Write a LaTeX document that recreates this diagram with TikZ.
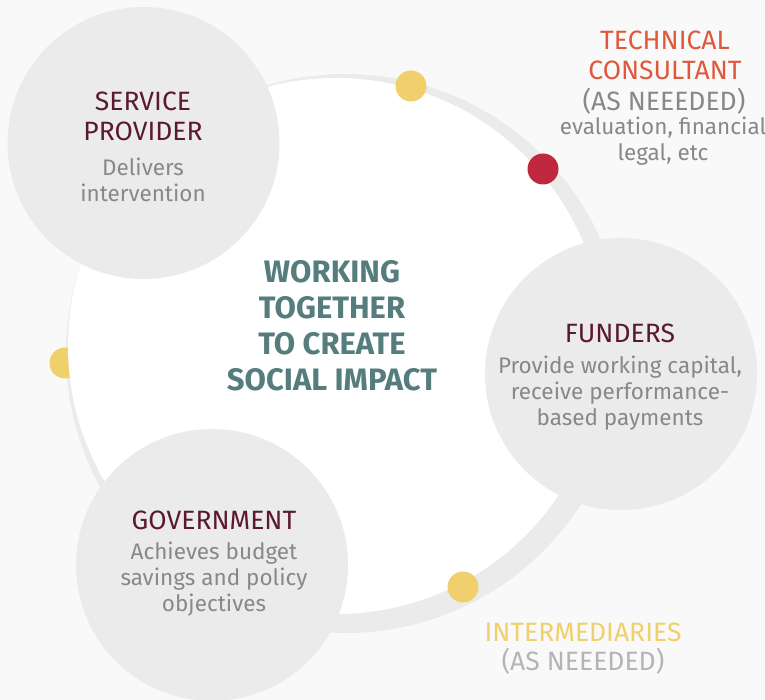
\documentclass[tikz,border=0pt]{standalone}
\usepackage{fontspec}
\setmainfont{Fira Sans}
\usetikzlibrary{positioning}

\definecolor{pagebg}{HTML}{F9F9F9}
\definecolor{ringgray}{HTML}{EBEBEB}
\definecolor{sunyellow}{HTML}{F0D06C}
\definecolor{dotred}{HTML}{C0283F}
\definecolor{headmaroon}{HTML}{5A1A2C}
\definecolor{bodygray}{HTML}{888888}
\definecolor{palegray}{HTML}{B4B4B4}
\definecolor{slateteal}{HTML}{557D7E}
\definecolor{consultred}{HTML}{E0583C}

\tikzset{
  actor/.style={circle, fill=ringgray, minimum size=272pt, inner sep=0pt},
  spot/.style={circle, minimum size=31pt, inner sep=0pt},
  head/.style={align=center, text=headmaroon, font=\fontsize{26.5}{30}\selectfont},
  body/.style={align=center, text=bodygray, font=\fontsize{22.5}{26}\selectfont}
}

\begin{document}
\begin{tikzpicture}[x=1pt, y=-1pt]
%Page and its margins
\fill[pagebg] (0,0) rectangle (765,700);
\useasboundingbox (0,0) rectangle (765,700);

%The big ring, a grey disc with a white disc a bit up and left of it
\node[circle, fill=ringgray, minimum size=559pt, inner sep=0pt] (ring) at (345.5,353.5) {};
\node[spot, fill=sunyellow] (dotleft) at (65,363) {};
\node[circle, fill=white, minimum size=536pt, inner sep=0pt] (hub) at (336,346) {};
\node[spot, fill=sunyellow] (dottop) at (411,86) {};
\node[spot, fill=dotred] (dotconsult) at (543,169) {};
\node[spot, fill=sunyellow] (dotbottom) at (463,587) {};

%The three partners
\node[actor] (provider) at (143.5,143) {};
\node[actor] (funders) at (621,374) {};
\node[actor] (govt) at (212,565) {};

%Texts in the circles
\node[head] (providerhead) at (143,116) {SERVICE\\PROVIDER};
\node[body] (providerbody) at (143,180) {Delivers\\intervention};

\node[head] (fundershead) at (620,333) {FUNDERS};
\node[body] (fundersbody) at (620,393) {Provide working capital,\\receive performance-\\based payments};

\node[head] (govthead) at (214,520) {GOVERNMENT};
\node[body] (govtbody) at (214,579) {Achieves budget\\savings and policy\\objectives};

\node[align=center, text=slateteal, font=\fontsize{31}{36}\selectfont\bfseries] (aim) at (332,326)
  {WORKING\\TOGETHER\\TO CREATE\\SOCIAL IMPACT};

%Partners outside the ring
\node[head, text=consultred] (consulthead) at (665,55) {TECHNICAL\\CONSULTANT};
\node[head, text=bodygray] (consultneed) at (664,101) {(AS NEEEDED)};
\node[body] (consultbody) at (663,141) {evaluation, financial\\legal, etc};

\node[head, text=sunyellow] (interhead) at (583,632) {INTERMEDIARIES};
\node[head, text=palegray] (interneed) at (583,661) {(AS NEEEDED)};
\end{tikzpicture}
\end{document}
